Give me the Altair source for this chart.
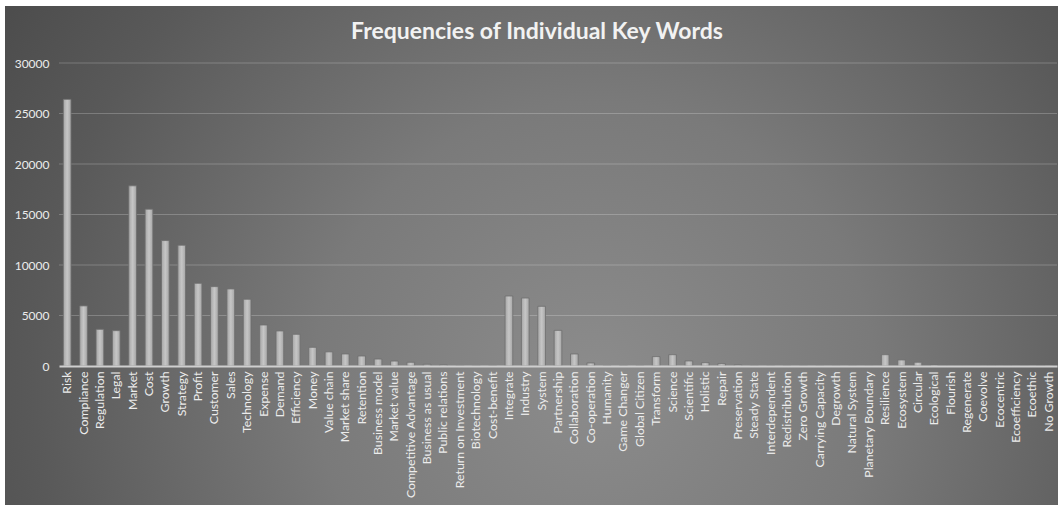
import altair as alt
import pandas as pd

# Key words and how often each one occurs
words = [
    "Risk", "Compliance", "Regulation", "Legal", "Market", "Cost", "Growth",
    "Strategy", "Profit", "Customer", "Sales", "Technology", "Expense", "Demand",
    "Efficiency", "Money", "Value chain", "Market share", "Retention",
    "Business model", "Market value", "Competitive Advantage", "Business as usual",
    "Public relations", "Return on Investment", "Biotechnology", "Cost-benefit",
    "Integrate", "Industry", "System", "Partnership", "Collaboration",
    "Co-operation", "Humanity", "Game Changer", "Global Citizen", "Transform",
    "Science", "Scientific", "Holistic", "Repair", "Preservation", "Steady State",
    "Interdependent", "Redistribution", "Zero Growth", "Carrying Capacity",
    "Degrowth", "Natural System", "Planetary Boundary", "Resilience", "Ecosystem",
    "Circular", "Ecological", "Flourish", "Regenerate", "Coevolve", "Ecocentric",
    "Ecoefficiency", "Ecoethic", "No Growth",
]
counts = [
    26400, 5950, 3630, 3500, 17840, 15530, 12420,
    11960, 8190, 7860, 7630, 6610, 4060, 3470,
    3140, 1850, 1400, 1190, 990,
    690, 490, 370, 170,
    100, 30, 20, 10,
    6930, 6730, 5910, 3530, 1190,
    300, 20, 30, 10, 930,
    1120, 500, 330, 230, 100, 20,
    10, 10, 10, 10,
    10, 10, 20, 1120, 600,
    370, 100, 20, 10, 10, 10,
    10, 10, 10,
]
tick_values = [0, 5000, 10000, 15000, 20000, 25000, 30000]

df = pd.DataFrame({"word": words, "count": counts})
grid_df = pd.DataFrame({"v": tick_values[1:]})

W, H = 998, 303
PAD_L, PAD_T = 59, 63
FONT = "Lato"
TEXT = "#ececec"

x_scale = alt.Scale(domain=words, paddingInner=0.53, paddingOuter=0.265)
y_scale = alt.Scale(domain=[0, 30000], nice=False)
y_axis = alt.Axis(values=tick_values, grid=False, domain=False, ticks=False,
                  labelPadding=10, labelFont=FONT, labelFontSize=12,
                  labelColor=TEXT, format="d", zindex=1)

# Gray panel with a soft radial highlight behind everything
panel = alt.Chart(alt.Data(values=[{}])).mark_rect(
    fill={
        "gradient": "radial",
        "x1": 0.56, "y1": 0.62, "x2": 0.56, "y2": 0.62,
        "r1": 0, "r2": 0.76,
        "stops": [
            {"offset": 0, "color": "#8c8c8c"},
            {"offset": 0.35, "color": "#7a7a7a"},
            {"offset": 0.7, "color": "#595959"},
            {"offset": 1, "color": "#434343"},
        ],
    },
).encode(
    x=alt.value(5 - PAD_L), x2=alt.value(1058 - PAD_L),
    y=alt.value(6 - PAD_T), y2=alt.value(505 - PAD_T),
)

grid = alt.Chart(grid_df).mark_rule(color="#ffffff", opacity=0.22, strokeWidth=1.2).encode(
    y=alt.Y("v:Q", scale=y_scale, axis=y_axis, title=None),
    x=alt.value(0), x2=alt.value(W),
)

bars = alt.Chart(df).mark_bar(
    fill={
        "gradient": "linear", "x1": 0, "y1": 0, "x2": 1, "y2": 0,
        "stops": [
            {"offset": 0, "color": "#a6a6a6"},
            {"offset": 0.5, "color": "#c6c6c6"},
            {"offset": 1, "color": "#a6a6a6"},
        ],
    },
    stroke="#6e6e6e", strokeWidth=0.8,
).encode(
    x=alt.X("word:N", scale=x_scale, sort=words, title=None,
            axis=alt.Axis(labelAngle=-90, labelPadding=5, ticks=False,
                          domain=True, domainColor="#cfcfcf", domainWidth=2,
                          labelFont=FONT, labelFontSize=12.3, labelColor=TEXT,
                          labelOverlap=False, zindex=1)),
    y=alt.Y("count:Q", scale=y_scale, title=None, axis=y_axis),
)

chart = alt.layer(panel, grid, bars).properties(
    width=W, height=H,
    title=alt.TitleParams(
        "Frequencies of Individual Key Words",
        font=FONT, fontSize=23, fontWeight="bold", color="#f2f2f2",
        anchor="middle", baseline="alphabetic", dx=-21, offset=-56,
    ),
    autosize=alt.AutoSizeParams(type="none"),
    padding={"left": PAD_L, "top": PAD_T, "right": 1062 - PAD_L - W, "bottom": 507 - PAD_T - H},
).configure(background="#ffffff").configure_view(stroke=None)

chart.save("out.html", embed_options={"renderer": "svg", "actions": False})
